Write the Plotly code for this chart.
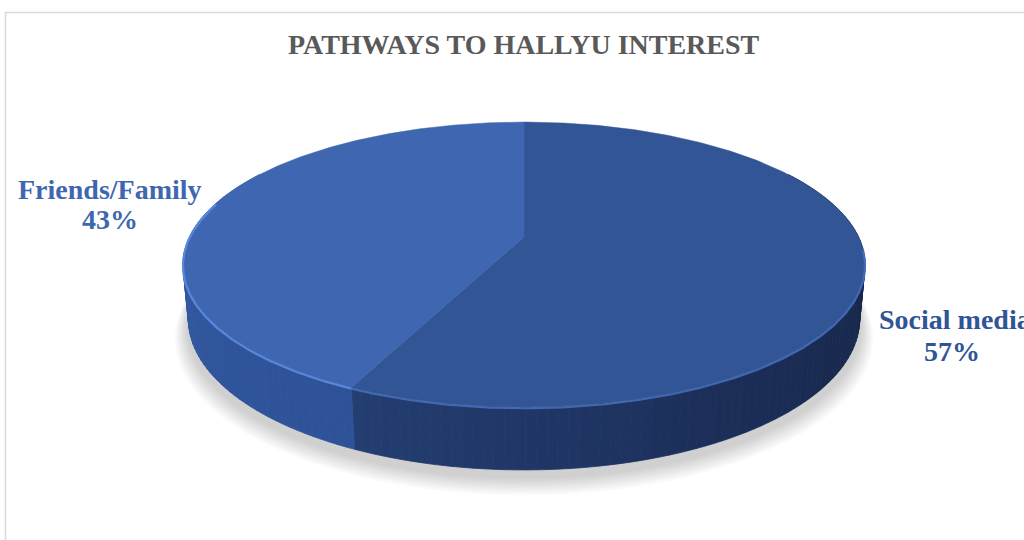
import math
import plotly.graph_objects as go

# ---- data ----
categories = ["Social media", "Friends/Family"]
shares = [57, 43]  # percent
title_text = "PATHWAYS TO HALLYU INTEREST"

# ---- styling ----
top_colors = ["#325596", "#3F67B1"]
label_colors = ["#2F5597", "#3F67B1"]
rim_highlight = ["rgba(70,110,185,0.9)", "rgba(88,138,222,0.95)"]
# side-wall gradient stops: (angle in degrees, rgb)
side_stops = [
    [(60, (20, 32, 62)), (150, (27, 46, 88)), (205.2, (36, 62, 114))],
    [(205.2, (46, 82, 152)), (250, (48, 86, 158)), (300, (56, 96, 172))],
]
SERIF = "Times New Roman, Liberation Serif, serif"

# ---- 3-D pie projection (pixel space of a 1024x540 canvas) ----
CX, CY = 524.0, 237.0       # projected pie centre on the top face
SCALE = 334.6               # radius scale
TILT = math.radians(24.2)   # viewing elevation
PERSP = 0.212               # radius / camera distance
THICK = 0.178               # disc thickness / radius


def project(phi_deg, level):
    """Point on the rim at angle phi (clockwise from 12 o'clock); level 0 = top, 1 = bottom."""
    phi = math.radians(phi_deg)
    u, v = math.sin(phi), math.cos(phi)
    y = -THICK * level
    yc = y * math.cos(TILT) + v * math.sin(TILT)
    zn = 1 + PERSP * (v * math.cos(TILT) - y * math.sin(TILT))
    return CX + SCALE * u / zn, CY - SCALE * yc / zn


def centre(level):
    y = -THICK * level
    yc = y * math.cos(TILT)
    zn = 1 - PERSP * y * math.sin(TILT)
    return CX, CY - SCALE * yc / zn


def arc(a0, a1, level, step=1.0):
    n = max(2, int(abs(a1 - a0) / step) + 1)
    return [project(a0 + (a1 - a0) * i / (n - 1), level) for i in range(n)]


def lerp_color(stops, a):
    for (a0, c0), (a1, c1) in zip(stops, stops[1:]):
        lo, hi = min(a0, a1), max(a0, a1)
        if lo <= a <= hi:
            t = (a - a0) / (a1 - a0)
            return tuple(round(c0[k] + (c1[k] - c0[k]) * t) for k in range(3))
    return stops[-1][1]


total = sum(shares)
bounds = []
acc = 0.0
for s in shares:
    start = acc / total * 360.0
    acc += s
    bounds.append((start, acc / total * 360.0))

fig = go.Figure()


def poly(points, color, line_color=None, line_width=0, opacity=1.0):
    xs = [p[0] for p in points] + [points[0][0]]
    ys = [p[1] for p in points] + [points[0][1]]
    fig.add_trace(go.Scatter(
        x=xs, y=ys, mode="lines", fill="toself", fillcolor=color,
        line=dict(color=line_color or color, width=line_width),
        opacity=opacity, hoverinfo="skip", showlegend=False))


# soft drop shadow under the disc
for i in range(8, 0, -1):
    grow = 1 + 0.005 * i
    ring = []
    for p in arc(0, 360, 1, step=3):
        ring.append((CX + (p[0] - CX) * grow, CY + 7 + (p[1] - CY) * grow + i * 1.1))
    poly(ring, "rgba(0,0,0,0.022)")

# side walls (front-facing part only), drawn as shaded strips
visible = [(60, 300)]
for idx, (a0, a1) in enumerate(bounds):
    lo, hi = max(a0, visible[0][0]), min(a1, visible[0][1])
    if hi <= lo:
        continue
    n = int((hi - lo) / 1.5) + 1
    for i in range(n):
        s0 = lo + (hi - lo) * i / n
        s1 = lo + (hi - lo) * (i + 1) / n
        c = lerp_color(side_stops[idx], (s0 + s1) / 2)
        col = "rgb(%d,%d,%d)" % c
        quad = [project(s0, 0), project(s1, 0), project(s1, 1), project(s0, 1)]
        poly(quad, col, line_width=0.8)

# top faces
for idx, (a0, a1) in enumerate(bounds):
    pts = [centre(0)] + arc(a0, a1, 0, step=0.5)
    poly(pts, top_colors[idx], line_width=0.5)

# bevel highlight on the front rim
for idx, (a0, a1) in enumerate(bounds):
    lo, hi = max(a0, 95), min(a1, 285)
    if hi <= lo:
        continue
    pts = arc(lo, hi, 0, step=0.5)
    fig.add_trace(go.Scatter(
        x=[p[0] for p in pts], y=[p[1] + 1.2 for p in pts], mode="lines",
        line=dict(color=rim_highlight[idx], width=2.2),
        hoverinfo="skip", showlegend=False))

# ---- labels ----
label_pos = {
    "Friends/Family": dict(x=110, y1=189, y2=219, anchor1="center", x2=110),
    "Social media": dict(x=877, y1=319, y2=351, anchor1="left", x2=952),
}
annotations = []
for idx, cat in enumerate(categories):
    pos = label_pos[cat]
    annotations.append(dict(
        x=pos["x"], y=pos["y1"], xref="x", yref="y", text="<b>%s</b>" % cat,
        showarrow=False, xanchor=pos["anchor1"], yanchor="middle",
        font=dict(family=SERIF, size=28, color=label_colors[idx])))
    annotations.append(dict(
        x=pos["x2"], y=pos["y2"], xref="x", yref="y", text="<b>%d%%</b>" % shares[idx],
        showarrow=False, xanchor="center", yanchor="middle",
        font=dict(family=SERIF, size=28, color=label_colors[idx])))

annotations.append(dict(
    x=524, y=44, xref="x", yref="y", text="<b>%s</b>" % title_text,
    showarrow=False, xanchor="center", yanchor="middle",
    font=dict(family=SERIF, size=28, color="#595959")))

fig.update_layout(
    width=1024, height=540,
    margin=dict(l=0, r=0, t=0, b=0),
    paper_bgcolor="white", plot_bgcolor="white",
    xaxis=dict(range=[0, 1024], visible=False, fixedrange=True),
    yaxis=dict(range=[540, 0], visible=False, fixedrange=True),
    showlegend=False,
    annotations=annotations,
    shapes=[dict(type="path", path="M 5.5 540 L 5.5 12.5 L 1024 12.5",
                 xref="x", yref="y", line=dict(color="#D9D9D9", width=1.5))],
)

fig.write_html("out.html", config={"displayModeBar": False})
